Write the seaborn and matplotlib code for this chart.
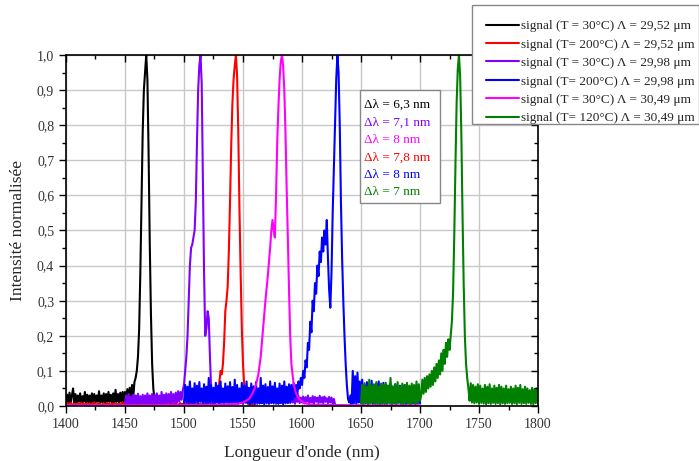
import numpy as np
import pandas as pd
import seaborn as sns
import matplotlib.pyplot as plt
from matplotlib.patches import Rectangle
from matplotlib.ticker import MultipleLocator, FuncFormatter, NullFormatter

# spectra sampled every 1 nm from the start wavelength
black_start = 1400
black_int = [
    0.008, 0.032, 0.01, 0.038, 0.007, 0.03, 0.05, 0.01, 0.034, 0.008,
    0.03, 0.012, 0.036, 0.008, 0.028, 0.012, 0.04, 0.009, 0.032, 0.011,
    0.03, 0.007, 0.036, 0.01, 0.034, 0.008, 0.03, 0.012, 0.042, 0.009,
    0.03, 0.011, 0.036, 0.008, 0.034, 0.01, 0.04, 0.012, 0.032, 0.008,
    0.036, 0.01, 0.046, 0.012, 0.034, 0.009, 0.038, 0.012, 0.04, 0.011,
    0.04, 0.014, 0.048, 0.016, 0.052, 0.02, 0.06, 0.025, 0.068,
    0.08, 0.1, 0.14, 0.22, 0.38, 0.58, 0.78, 0.9, 0.95, 1.0, 0.93,
    0.72, 0.46, 0.26, 0.12, 0.05, 0.02, 0.01, 0.01, 0.008, 0.005, 0.005,
]

red_start = 1400
red_int = [
    0.005, 0.008, 0.004, 0.006, 0.01, 0.005, 0.003, 0.007, 0.005, 0.006,
    0.004, 0.007, 0.005, 0.009, 0.004, 0.006, 0.005, 0.003, 0.008, 0.005,
    0.006, 0.004, 0.007, 0.005, 0.01, 0.005, 0.004, 0.006, 0.008, 0.005,
    0.003, 0.006, 0.005, 0.007, 0.004, 0.009, 0.005, 0.006, 0.004, 0.007,
    0.005, 0.008, 0.004, 0.006, 0.005, 0.003, 0.007, 0.005, 0.01, 0.004,
    0.006, 0.005, 0.008, 0.004, 0.006, 0.005, 0.007, 0.003, 0.006, 0.005,
    0.009, 0.004, 0.006, 0.005, 0.007, 0.004, 0.005, 0.008, 0.005, 0.006,
    0.004, 0.007, 0.005, 0.006, 0.003, 0.008, 0.005, 0.006, 0.004, 0.007,
    0.005, 0.006, 0.01, 0.004, 0.006, 0.005, 0.007, 0.004, 0.005, 0.008,
    0.005, 0.006, 0.004, 0.007, 0.005, 0.003, 0.006, 0.008, 0.005, 0.006,
    0.004, 0.007, 0.005, 0.006, 0.009, 0.004, 0.006, 0.005, 0.007, 0.005,
    0.006, 0.004, 0.008, 0.005, 0.006, 0.005, 0.004, 0.007, 0.005, 0.01,
    0.005, 0.006, 0.004, 0.007, 0.005, 0.008, 0.006, 0.012,
    0.02, 0.04, 0.07, 0.1, 0.09, 0.12, 0.18, 0.27, 0.3, 0.34,
    0.44, 0.58, 0.74, 0.86, 0.93, 0.97, 1.0, 0.94, 0.78, 0.56,
    0.38, 0.22, 0.12, 0.06, 0.03, 0.012, 0.008, 0.005, 0.004, 0.006,
    0.005, 0.004, 0.005,
]

purple_start = 1450
purple_int = [
    0.005, 0.03, 0.007, 0.034, 0.005, 0.026, 0.008, 0.032, 0.006, 0.03,
    0.007, 0.035, 0.005, 0.028, 0.009, 0.032, 0.006, 0.03, 0.008, 0.036,
    0.005, 0.03, 0.008, 0.034, 0.006, 0.032, 0.007, 0.036, 0.009, 0.03,
    0.006, 0.04, 0.008, 0.032, 0.007, 0.036, 0.009, 0.034, 0.007, 0.04,
    0.01, 0.034, 0.008, 0.038, 0.01, 0.042, 0.012, 0.04, 0.018, 0.046, 0.06,
    0.1, 0.14, 0.2, 0.3, 0.4, 0.45, 0.46, 0.48, 0.5, 0.58,
    0.75, 0.9, 0.97, 1.0, 0.92, 0.65, 0.38, 0.2, 0.22, 0.27,
    0.25, 0.14, 0.05, 0.03, 0.02,
    0.008, 0.025, 0.01, 0.028, 0.006, 0.022, 0.012, 0.03, 0.008, 0.026,
    0.01, 0.024, 0.006, 0.028, 0.012, 0.022, 0.008, 0.03, 0.01, 0.025,
    0.006, 0.027, 0.012, 0.023, 0.008, 0.029, 0.01, 0.024, 0.007, 0.026,
    0.012, 0.03, 0.008, 0.022, 0.01, 0.028, 0.006, 0.025, 0.012, 0.027,
    0.008, 0.023, 0.01, 0.03, 0.007, 0.025, 0.012, 0.028, 0.008, 0.022,
    0.01, 0.026, 0.006, 0.029, 0.012, 0.024, 0.008, 0.027, 0.01, 0.023,
    0.007, 0.028, 0.012, 0.025, 0.008, 0.03, 0.01, 0.022, 0.006, 0.026,
    0.012, 0.029, 0.008, 0.024, 0.01, 0.027, 0.007, 0.025, 0.012, 0.03,
    0.008, 0.023, 0.01, 0.028, 0.006, 0.026, 0.012, 0.024, 0.008, 0.029,
    0.01, 0.025, 0.007, 0.027, 0.012, 0.022, 0.008, 0.026, 0.01, 0.024,
    0.006, 0.02, 0.004,
]

blue_start = 1500
blue_int = [
    0.008, 0.06, 0.01, 0.055, 0.006, 0.07, 0.009, 0.05, 0.005, 0.065,
    0.01, 0.058, 0.007, 0.068, 0.012, 0.05, 0.006, 0.062, 0.009, 0.055,
    0.005, 0.08, 0.01, 0.06, 0.008, 0.052, 0.006, 0.066, 0.01, 0.058,
    0.007, 0.07, 0.009, 0.05, 0.005, 0.064, 0.011, 0.056, 0.006, 0.068,
    0.008, 0.054, 0.005, 0.075, 0.01, 0.06, 0.007, 0.05, 0.009, 0.066,
    0.006, 0.058, 0.01, 0.07, 0.008, 0.052, 0.005, 0.064, 0.009, 0.056,
    0.006, 0.068, 0.011, 0.05, 0.007, 0.08, 0.008, 0.058, 0.005, 0.062,
    0.01, 0.054, 0.006, 0.07, 0.009, 0.056, 0.007, 0.066, 0.01, 0.05,
    0.006, 0.064, 0.009, 0.058, 0.005, 0.07, 0.01, 0.055, 0.008, 0.062,
    0.012, 0.06, 0.018, 0.065, 0.025, 0.06, 0.03, 0.07,
    0.05, 0.08, 0.06, 0.1, 0.08, 0.13, 0.11, 0.18, 0.16, 0.24,
    0.21, 0.3, 0.27, 0.35, 0.32, 0.4, 0.37, 0.44, 0.41, 0.48,
    0.44, 0.5, 0.46, 0.53, 0.42, 0.33, 0.28, 0.38, 0.55, 0.68,
    0.82, 0.93, 1.0, 0.95, 0.8, 0.58, 0.42, 0.3, 0.2, 0.12,
    0.06, 0.02, 0.01, 0.03,
    0.005, 0.1, 0.008, 0.085, 0.006, 0.095, 0.01, 0.07, 0.008, 0.075,
    0.005, 0.06, 0.008, 0.068, 0.005, 0.06, 0.009, 0.072, 0.006, 0.058,
    0.008, 0.064, 0.005, 0.07, 0.009, 0.055, 0.006, 0.066, 0.008, 0.06,
    0.005, 0.058, 0.009, 0.065, 0.006, 0.055, 0.008, 0.062, 0.006, 0.05,
    0.009, 0.058, 0.006, 0.052, 0.008, 0.06, 0.005, 0.05, 0.008, 0.055,
    0.006, 0.048, 0.008, 0.052, 0.005, 0.045, 0.007, 0.05, 0.008,
]

# the 30.49 um / 30 C signal is smooth, so it is read at uneven steps
magenta_nm = [
    1400, 1450, 1500, 1530, 1545, 1550, 1555, 1558, 1561, 1563,
    1565, 1567, 1569, 1571, 1573, 1574, 1575, 1576, 1577, 1578,
    1579, 1580, 1581, 1582, 1583, 1584, 1585, 1586, 1587, 1588,
    1589, 1590, 1591, 1593, 1595, 1598, 1602, 1608, 1620, 1650, 1700,
]
magenta_int = [
    0.002, 0.002, 0.003, 0.004, 0.006, 0.01, 0.02, 0.035, 0.06, 0.09,
    0.14, 0.22, 0.3, 0.37, 0.45, 0.5, 0.53, 0.5, 0.48, 0.6,
    0.75, 0.85, 0.93, 0.98, 1.0, 0.97, 0.9, 0.78, 0.62, 0.48,
    0.33, 0.2, 0.12, 0.06, 0.035, 0.018, 0.008, 0.004, 0.003, 0.002, 0.002,
]

green_start = 1650
green_int = [
    0.008, 0.06, 0.006, 0.065, 0.009, 0.055, 0.005, 0.075, 0.008, 0.058,
    0.01, 0.062, 0.006, 0.068, 0.008, 0.055, 0.005, 0.064, 0.009, 0.06,
    0.006, 0.066, 0.008, 0.058, 0.009, 0.08, 0.005, 0.056, 0.008, 0.062,
    0.006, 0.068, 0.01, 0.055, 0.007, 0.064, 0.005, 0.06, 0.009, 0.066,
    0.007, 0.058, 0.005, 0.064, 0.01, 0.06, 0.007, 0.07, 0.009, 0.062, 0.015,
    0.03, 0.075, 0.035, 0.08, 0.04, 0.085, 0.05, 0.09, 0.055, 0.1,
    0.06, 0.11, 0.07, 0.12, 0.08, 0.13, 0.09, 0.15, 0.1, 0.16,
    0.12, 0.18, 0.14, 0.19, 0.16, 0.2, 0.24, 0.32, 0.48, 0.68,
    0.86, 0.96, 1.0, 0.94, 0.78, 0.55, 0.35, 0.2, 0.12, 0.08, 0.05,
    0.015, 0.065, 0.01, 0.06, 0.008, 0.055, 0.01, 0.062, 0.006, 0.058,
    0.009, 0.05, 0.007, 0.06, 0.005, 0.055, 0.008, 0.062, 0.006, 0.05,
    0.009, 0.058, 0.006, 0.052, 0.008, 0.06, 0.005, 0.055, 0.008, 0.05,
    0.006, 0.058, 0.008, 0.048, 0.009, 0.055, 0.006, 0.05, 0.008, 0.058,
    0.005, 0.052, 0.009, 0.06, 0.006, 0.048, 0.008, 0.055, 0.006, 0.05,
    0.009, 0.045, 0.006, 0.052, 0.005, 0.048, 0.008, 0.05, 0.006,
]

series_labels = [
    "signal (T = 30°C) Λ = 29,52 μm",
    "signal (T= 200°C) Λ = 29,52 μm",
    "signal (T = 30°C) Λ = 29,98 μm",
    "signal (T= 200°C) Λ = 29,98 μm",
    "signal (T = 30°C) Λ = 30,49 μm",
    "signal (T= 120°C) Λ = 30,49 μm",
]
series_colors = ["#000000", "#ff0000", "#8000ff", "#0000ff", "#ff00ff", "#008000"]

fwhm_labels = ["Δλ = 6,3 nm", "Δλ = 7,1 nm", "Δλ = 8 nm",
               "Δλ = 7,8 nm", "Δλ = 8 nm", "Δλ = 7 nm"]
fwhm_colors = ["#000000", "#8000ff", "#ff00ff", "#ff0000", "#0000ff", "#008000"]


def spectrum(start, values):
    return pd.DataFrame({"nm": start + np.arange(len(values)), "I": values})


frames = [
    spectrum(black_start, black_int),
    spectrum(red_start, red_int),
    spectrum(purple_start, purple_int),
    spectrum(blue_start, blue_int),
    pd.DataFrame({"nm": magenta_nm, "I": magenta_int}),
    spectrum(green_start, green_int),
]

sns.set_theme(style="ticks")
plt.rcParams["font.family"] = ["Liberation Serif", "DejaVu Serif"]
plt.rcParams["xtick.color"] = "black"
plt.rcParams["ytick.color"] = "black"

fig, ax = plt.subplots(figsize=(6.99, 4.61), dpi=100)
fig.subplots_adjust(left=0.0944, right=0.7697, top=0.8807, bottom=0.1193)

for df, col, lab in zip(frames, series_colors, series_labels):
    sns.lineplot(data=df, x="nm", y="I", color=col, lw=1.5, label=lab, ax=ax)

ax.set_xlim(1400, 1800)
ax.set_ylim(0, 1.0)
ax.xaxis.set_major_locator(MultipleLocator(50))
ax.xaxis.set_minor_locator(MultipleLocator(25))
ax.yaxis.set_major_locator(MultipleLocator(0.1))
ax.yaxis.set_minor_locator(MultipleLocator(0.05))
ax.yaxis.set_major_formatter(FuncFormatter(lambda v, _: f"{v:.1f}".replace(".", ",")))
ax.grid(True, which="major", color="#c8c8c8", lw=1)
ax.tick_params(which="major", direction="out", length=5, width=1, labelsize=10,
               labelcolor="#333333")
ax.tick_params(which="minor", direction="out", length=3, width=1)
for sp in ax.spines.values():
    sp.set_visible(True)
    sp.set_color("black")
    sp.set_linewidth(1.2)

# mirrored ticks pointing inward on top and right
tx = ax.twiny()
tx.set_xlim(ax.get_xlim())
tx.xaxis.set_major_locator(MultipleLocator(50))
tx.xaxis.set_minor_locator(MultipleLocator(25))
tx.xaxis.set_major_formatter(NullFormatter())
tx.tick_params(which="major", direction="in", length=5, width=1)
tx.tick_params(which="minor", direction="in", length=3, width=1)
ty = ax.twinx()
ty.set_ylim(ax.get_ylim())
ty.yaxis.set_major_locator(MultipleLocator(0.1))
ty.yaxis.set_minor_locator(MultipleLocator(0.05))
ty.yaxis.set_major_formatter(NullFormatter())
ty.tick_params(which="major", direction="in", length=5, width=1)
ty.tick_params(which="minor", direction="in", length=3, width=1)
for t in (tx, ty):
    t.grid(False)
    for sp in t.spines.values():
        sp.set_visible(False)

ax.set_xlabel("Longueur d'onde (nm)", fontsize=12.5, labelpad=10)
ax.set_ylabel("Intensité normalisée", fontsize=12.5, labelpad=8)

# legend frame drawn separately: it sits over the top-right corner of the axes
fig.patches.append(Rectangle((472 / 699, 1 - 124 / 461), 227 / 699, 119 / 461,
                             transform=fig.transFigure, facecolor="white",
                             edgecolor="#888888", lw=1, zorder=3))
handles, labels = ax.get_legend_handles_labels()
ax.get_legend().remove()
leg = fig.legend(handles, labels, loc="upper left", bbox_to_anchor=(486 / 699, 1 - 20 / 461),
                 fontsize=9.5, frameon=False, borderaxespad=0, borderpad=0,
                 handlelength=2.5, handletextpad=0.15, labelspacing=0.47)
leg.set_zorder(4)

# FWHM box
ax.add_patch(Rectangle((0.6229, 0.5783), 0.1695, 0.322, transform=ax.transAxes,
                       facecolor="white", edgecolor="#888888", lw=1, zorder=5))
for i, (t, c) in enumerate(zip(fwhm_labels, fwhm_colors)):
    ax.text(0.6314, 0.858 - i * 0.0499, t, color=c, fontsize=9.5, va="center",
            ha="left", transform=ax.transAxes, zorder=6)

fig.savefig("out.png", dpi=100)
